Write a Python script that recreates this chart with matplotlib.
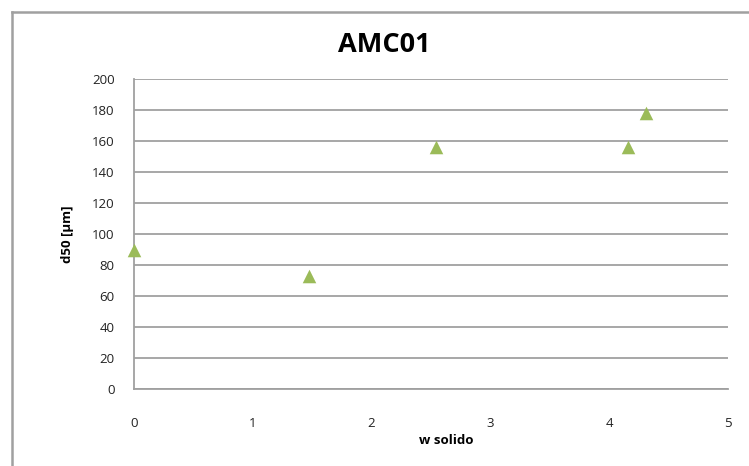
import matplotlib.pyplot as plt
import matplotlib.lines as mlines

plt.rcParams['font.family'] = ['Open Sans', 'DejaVu Sans']

# d50 vs solid fraction, sample AMC01
w_solido = [0.0, 1.47, 2.54, 4.16, 4.31]
d50 = [90, 73, 156, 156, 178]

xticks = [0, 1, 2, 3, 4, 5]
yticks = list(range(0, 201, 20))

grey = '#a0a0a0'

fig = plt.figure(figsize=(7.49, 4.66), dpi=100)
ax = fig.add_axes([0.1789, 0.1652, 0.7931, 0.6653])

ax.scatter(w_solido, d50, marker='^', s=95, color='#9bbb59', zorder=3,
           clip_on=False, linewidths=0)

ax.set_xlim(0, 5)
ax.set_ylim(0, 200)
ax.set_xticks(xticks)
ax.set_yticks(yticks)
ax.grid(axis='y', color=grey, linewidth=1.3)
ax.set_axisbelow(True)
for side in ['top', 'right']:
    ax.spines[side].set_visible(False)
for side in ['left', 'bottom']:
    ax.spines[side].set_color(grey)
    ax.spines[side].set_linewidth(1.3)
ax.tick_params(length=0, labelsize=9.5, colors='#222222')
ax.tick_params(axis='x', pad=20)
ax.tick_params(axis='y', pad=14)

fig.text(384 / 749, 1 - 45 / 466, 'AMC01', ha='center', va='center',
         fontsize=19.5, fontweight='bold')
fig.text(446 / 749, 1 - 440 / 466, 'w solido', ha='center', va='center',
         fontsize=9.5, fontweight='bold')
fig.text(68 / 749, 1 - 234 / 466, 'd50 [µm]', ha='center', va='center',
         fontsize=9.5, fontweight='bold', rotation=90)

# chart area border (only top and left fall inside the image)
fig.add_artist(mlines.Line2D([11.5 / 749, 11.5 / 749], [0, 1 - 12 / 466],
                             color=grey, linewidth=1.8))
fig.add_artist(mlines.Line2D([11.5 / 749, 1], [1 - 12 / 466, 1 - 12 / 466],
                             color=grey, linewidth=1.8))

fig.savefig('out.png', dpi=100)
